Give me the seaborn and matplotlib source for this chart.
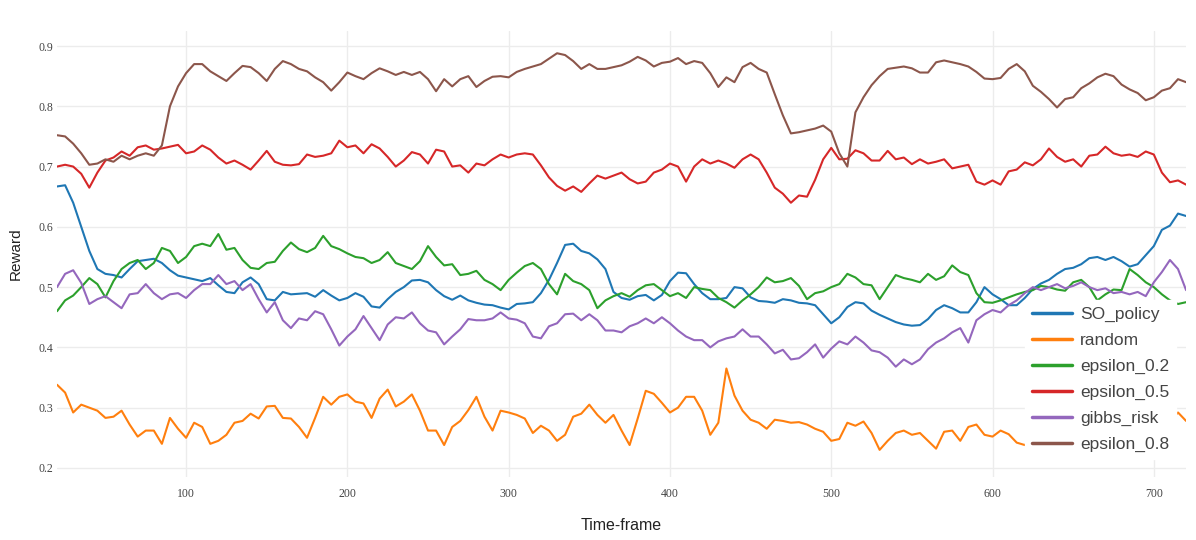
import matplotlib
matplotlib.use('Agg')
import matplotlib.pyplot as plt
import seaborn as sns
import numpy as np
import pandas as pd

# Time-frame axis (every 5 steps)
time_frame = list(range(20, 721, 5))

so_policy = [
    0.667, 0.669, 0.640, 0.600, 0.560, 0.530, 0.522, 0.520, 0.516, 0.530, 0.543, 0.545, 0.547, 0.540, 0.528, 0.519, 0.516, 0.513, 0.510, 0.515, 0.503, 0.492,
    0.490, 0.508, 0.516, 0.505, 0.480, 0.478, 0.492, 0.488, 0.489, 0.490, 0.484, 0.495, 0.486, 0.478, 0.482, 0.490, 0.484, 0.468, 0.466, 0.480, 0.492, 0.500, 0.511,
    0.512, 0.508, 0.495, 0.485, 0.479, 0.486, 0.478, 0.474, 0.471, 0.470, 0.466, 0.463, 0.472, 0.473, 0.475, 0.490, 0.512, 0.540, 0.570, 0.572, 0.560, 0.556, 0.546, 0.530,
    0.492, 0.482, 0.479, 0.485, 0.487, 0.478, 0.487, 0.510, 0.524, 0.523, 0.505, 0.490, 0.480, 0.480, 0.482, 0.500, 0.498, 0.483, 0.477, 0.476, 0.474, 0.480, 0.478, 0.474,
    0.473, 0.470, 0.455, 0.440, 0.450, 0.467, 0.475, 0.473, 0.461, 0.454, 0.448, 0.442, 0.438, 0.436, 0.437, 0.447, 0.462, 0.470, 0.465, 0.458, 0.458, 0.475, 0.500,
    0.488, 0.480, 0.470, 0.470, 0.482, 0.497, 0.506, 0.512, 0.522, 0.530, 0.532, 0.538, 0.548, 0.550, 0.545, 0.550, 0.543, 0.534, 0.538, 0.553, 0.568, 0.595, 0.602, 0.622, 0.618,
]

random_policy = [
    0.338, 0.325, 0.292, 0.305, 0.300, 0.295, 0.283, 0.285, 0.295, 0.272, 0.252, 0.262, 0.262, 0.240, 0.283, 0.265, 0.250, 0.275, 0.268, 0.240, 0.245, 0.255,
    0.275, 0.278, 0.290, 0.282, 0.302, 0.303, 0.283, 0.282, 0.268, 0.250, 0.283, 0.318, 0.305, 0.318, 0.322, 0.310, 0.307, 0.283, 0.315, 0.330, 0.302, 0.310, 0.322,
    0.295, 0.262, 0.262, 0.238, 0.268, 0.278, 0.296, 0.318, 0.285, 0.262, 0.295, 0.292, 0.288, 0.282, 0.258, 0.270, 0.262, 0.245, 0.255, 0.285, 0.290, 0.305, 0.288, 0.275,
    0.288, 0.262, 0.238, 0.282, 0.328, 0.323, 0.308, 0.292, 0.300, 0.318, 0.318, 0.295, 0.255, 0.275, 0.365, 0.320, 0.295, 0.280, 0.275, 0.265, 0.280, 0.278, 0.275, 0.276,
    0.272, 0.265, 0.260, 0.245, 0.248, 0.275, 0.270, 0.277, 0.258, 0.230, 0.245, 0.258, 0.262, 0.255, 0.258, 0.245, 0.232, 0.260, 0.262, 0.245, 0.268, 0.272, 0.255,
    0.252, 0.262, 0.256, 0.242, 0.238, 0.250, 0.262, 0.270, 0.258, 0.265, 0.272, 0.262, 0.255, 0.268, 0.275, 0.262, 0.258, 0.270, 0.280, 0.268, 0.275, 0.285, 0.278, 0.292, 0.278,
]

epsilon_02 = [
    0.460, 0.478, 0.486, 0.500, 0.515, 0.505, 0.483, 0.510, 0.530, 0.540, 0.545, 0.530, 0.540, 0.565, 0.560, 0.540, 0.550, 0.568, 0.572, 0.568, 0.588, 0.562,
    0.565, 0.545, 0.532, 0.530, 0.540, 0.542, 0.560, 0.574, 0.563, 0.558, 0.565, 0.585, 0.568, 0.563, 0.556, 0.550, 0.548, 0.540, 0.545, 0.558, 0.540, 0.535, 0.530,
    0.543, 0.568, 0.550, 0.536, 0.538, 0.520, 0.522, 0.527, 0.512, 0.505, 0.495, 0.512, 0.524, 0.535, 0.540, 0.530, 0.505, 0.488, 0.522, 0.510, 0.505, 0.495, 0.465, 0.478,
    0.485, 0.490, 0.484, 0.495, 0.503, 0.505, 0.495, 0.485, 0.490, 0.482, 0.500, 0.497, 0.495, 0.482, 0.475, 0.466, 0.478, 0.488, 0.500, 0.516, 0.508, 0.510, 0.515, 0.502,
    0.480, 0.490, 0.493, 0.500, 0.505, 0.522, 0.516, 0.505, 0.503, 0.480, 0.500, 0.520, 0.515, 0.512, 0.508, 0.522, 0.512, 0.518, 0.536, 0.525, 0.520, 0.490, 0.475,
    0.474, 0.478, 0.483, 0.488, 0.492, 0.495, 0.502, 0.500, 0.496, 0.494, 0.508, 0.512, 0.500, 0.478, 0.488, 0.496, 0.495, 0.530, 0.520, 0.508, 0.500, 0.488, 0.478, 0.472, 0.475,
]

epsilon_05 = [
    0.700, 0.703, 0.700, 0.688, 0.665, 0.690, 0.710, 0.715, 0.725, 0.718, 0.732, 0.735, 0.728, 0.730, 0.733, 0.736, 0.722, 0.725, 0.735, 0.728, 0.715, 0.705,
    0.710, 0.703, 0.695, 0.710, 0.726, 0.708, 0.703, 0.702, 0.704, 0.720, 0.716, 0.718, 0.722, 0.743, 0.732, 0.735, 0.722, 0.737, 0.730, 0.716, 0.700, 0.710, 0.724,
    0.720, 0.705, 0.728, 0.725, 0.700, 0.702, 0.690, 0.705, 0.702, 0.712, 0.720, 0.715, 0.720, 0.722, 0.720, 0.702, 0.682, 0.668, 0.660, 0.667, 0.658, 0.672, 0.685, 0.680,
    0.685, 0.690, 0.679, 0.672, 0.675, 0.690, 0.695, 0.705, 0.700, 0.675, 0.700, 0.712, 0.705, 0.710, 0.705, 0.698, 0.712, 0.720, 0.712, 0.690, 0.665, 0.655, 0.640, 0.652,
    0.650, 0.678, 0.712, 0.731, 0.712, 0.713, 0.727, 0.722, 0.710, 0.710, 0.726, 0.712, 0.715, 0.704, 0.712, 0.705, 0.708, 0.712, 0.697, 0.700, 0.703, 0.675, 0.670,
    0.677, 0.670, 0.692, 0.695, 0.707, 0.702, 0.712, 0.730, 0.716, 0.708, 0.712, 0.700, 0.718, 0.720, 0.733, 0.722, 0.718, 0.720, 0.716, 0.725, 0.720, 0.690, 0.674, 0.677, 0.670,
]

gibbs_risk = [
    0.500, 0.522, 0.528, 0.507, 0.472, 0.480, 0.485, 0.475, 0.465, 0.488, 0.490, 0.505, 0.490, 0.480, 0.488, 0.490, 0.482, 0.495, 0.505, 0.505, 0.520, 0.505,
    0.510, 0.495, 0.505, 0.480, 0.458, 0.475, 0.445, 0.432, 0.448, 0.445, 0.460, 0.455, 0.430, 0.403, 0.418, 0.430, 0.452, 0.432, 0.412, 0.438, 0.450, 0.448, 0.458,
    0.440, 0.428, 0.425, 0.405, 0.418, 0.430, 0.447, 0.445, 0.445, 0.448, 0.458, 0.448, 0.446, 0.440, 0.418, 0.415, 0.435, 0.440, 0.455, 0.456, 0.445, 0.455, 0.445, 0.428,
    0.428, 0.425, 0.435, 0.440, 0.448, 0.440, 0.450, 0.440, 0.428, 0.418, 0.412, 0.412, 0.400, 0.410, 0.415, 0.418, 0.430, 0.418, 0.418, 0.405, 0.390, 0.396, 0.380, 0.382,
    0.392, 0.405, 0.383, 0.398, 0.410, 0.405, 0.418, 0.408, 0.395, 0.392, 0.383, 0.368, 0.380, 0.372, 0.380, 0.397, 0.408, 0.415, 0.425, 0.432, 0.408, 0.445, 0.455,
    0.462, 0.458, 0.470, 0.478, 0.490, 0.500, 0.495, 0.500, 0.505, 0.498, 0.502, 0.508, 0.500, 0.495, 0.498, 0.490, 0.492, 0.488, 0.492, 0.485, 0.508, 0.525, 0.545, 0.530, 0.495,
]

epsilon_08 = [
    0.752, 0.750, 0.738, 0.722, 0.703, 0.705, 0.712, 0.708, 0.718, 0.712, 0.718, 0.722, 0.718, 0.735, 0.800, 0.833, 0.855, 0.870, 0.870, 0.858, 0.850, 0.842,
    0.855, 0.867, 0.865, 0.855, 0.842, 0.862, 0.875, 0.870, 0.862, 0.858, 0.848, 0.840, 0.826, 0.840, 0.856, 0.850, 0.845, 0.855, 0.863, 0.858, 0.852, 0.857, 0.852,
    0.857, 0.845, 0.825, 0.845, 0.833, 0.845, 0.850, 0.832, 0.842, 0.849, 0.850, 0.848, 0.857, 0.862, 0.866, 0.870, 0.879, 0.888, 0.885, 0.875, 0.862, 0.870, 0.862, 0.862,
    0.865, 0.868, 0.874, 0.882, 0.876, 0.866, 0.872, 0.874, 0.880, 0.870, 0.875, 0.872, 0.855, 0.832, 0.848, 0.840, 0.865, 0.872, 0.862, 0.856, 0.820, 0.785, 0.755, 0.757,
    0.760, 0.763, 0.768, 0.758, 0.722, 0.700, 0.790, 0.815, 0.835, 0.850, 0.862, 0.864, 0.866, 0.863, 0.856, 0.856, 0.873, 0.876, 0.873, 0.870, 0.866, 0.857, 0.846,
    0.845, 0.847, 0.862, 0.870, 0.858, 0.834, 0.824, 0.812, 0.798, 0.812, 0.815, 0.830, 0.838, 0.848, 0.854, 0.850, 0.836, 0.828, 0.822, 0.810, 0.815, 0.826, 0.830, 0.845, 0.840,
]

series_names = ['SO_policy', 'random', 'epsilon_0.2', 'epsilon_0.5', 'gibbs_risk', 'epsilon_0.8']
series_values = [so_policy, random_policy, epsilon_02, epsilon_05, gibbs_risk, epsilon_08]
colors = ['#1f77b4', '#ff7f0e', '#2ca02c', '#d62728', '#9467bd', '#8c564b']

frames = []
for name, vals in zip(series_names, series_values):
    frames.append(pd.DataFrame({'Time-frame': time_frame, 'Reward': vals, 'policy': name}))
df = pd.concat(frames, ignore_index=True)

sns.set_style("white")
plt.rcParams['font.family'] = ['Liberation Sans', 'DejaVu Sans']

fig = plt.figure(figsize=(11.96, 5.40), dpi=100)
ax = fig.add_axes([0.0477, 0.1167, 0.944, 0.826])

sns.lineplot(data=df, x='Time-frame', y='Reward', hue='policy', hue_order=series_names,
             palette=colors, linewidth=1.5, ax=ax, legend=True)

ax.set_xlim(20, 720)
ax.set_ylim(0.185, 0.925)
ax.set_xticks([100, 200, 300, 400, 500, 600, 700])
ax.set_yticks([0.2, 0.3, 0.4, 0.5, 0.6, 0.7, 0.8, 0.9])
ax.set_xticklabels(['100', '200', '300', '400', '500', '600', '700'], family='Liberation Serif', fontsize=8.5, color='#444444')
ax.set_yticklabels(['0.2', '0.3', '0.4', '0.5', '0.6', '0.7', '0.8', '0.9'], family='Liberation Serif', fontsize=8.5, color='#444444')
ax.tick_params(axis='both', length=0)
ax.tick_params(axis='y', pad=3)
ax.tick_params(axis='x', pad=8)
ax.grid(True, color='#ececec', linewidth=1)
ax.set_axisbelow(True)
for s in ax.spines.values():
    s.set_visible(False)

ax.set_xlabel('Time-frame', fontsize=11.5, color='#222222', labelpad=13)
ax.set_ylabel('Reward', fontsize=11, color='#222222', labelpad=11)

leg = ax.legend(loc='lower right', bbox_to_anchor=(0.999, 0.02), fontsize=12.5,
                frameon=True, facecolor='white', edgecolor='white', framealpha=1,
                handlelength=2.3, handletextpad=0.45, labelspacing=0.62,
                borderpad=0.4, fancybox=False)
for line in leg.get_lines():
    line.set_linewidth(2.5)
for t in leg.get_texts():
    t.set_color('#444444')

fig.savefig('out.png', dpi=100)
